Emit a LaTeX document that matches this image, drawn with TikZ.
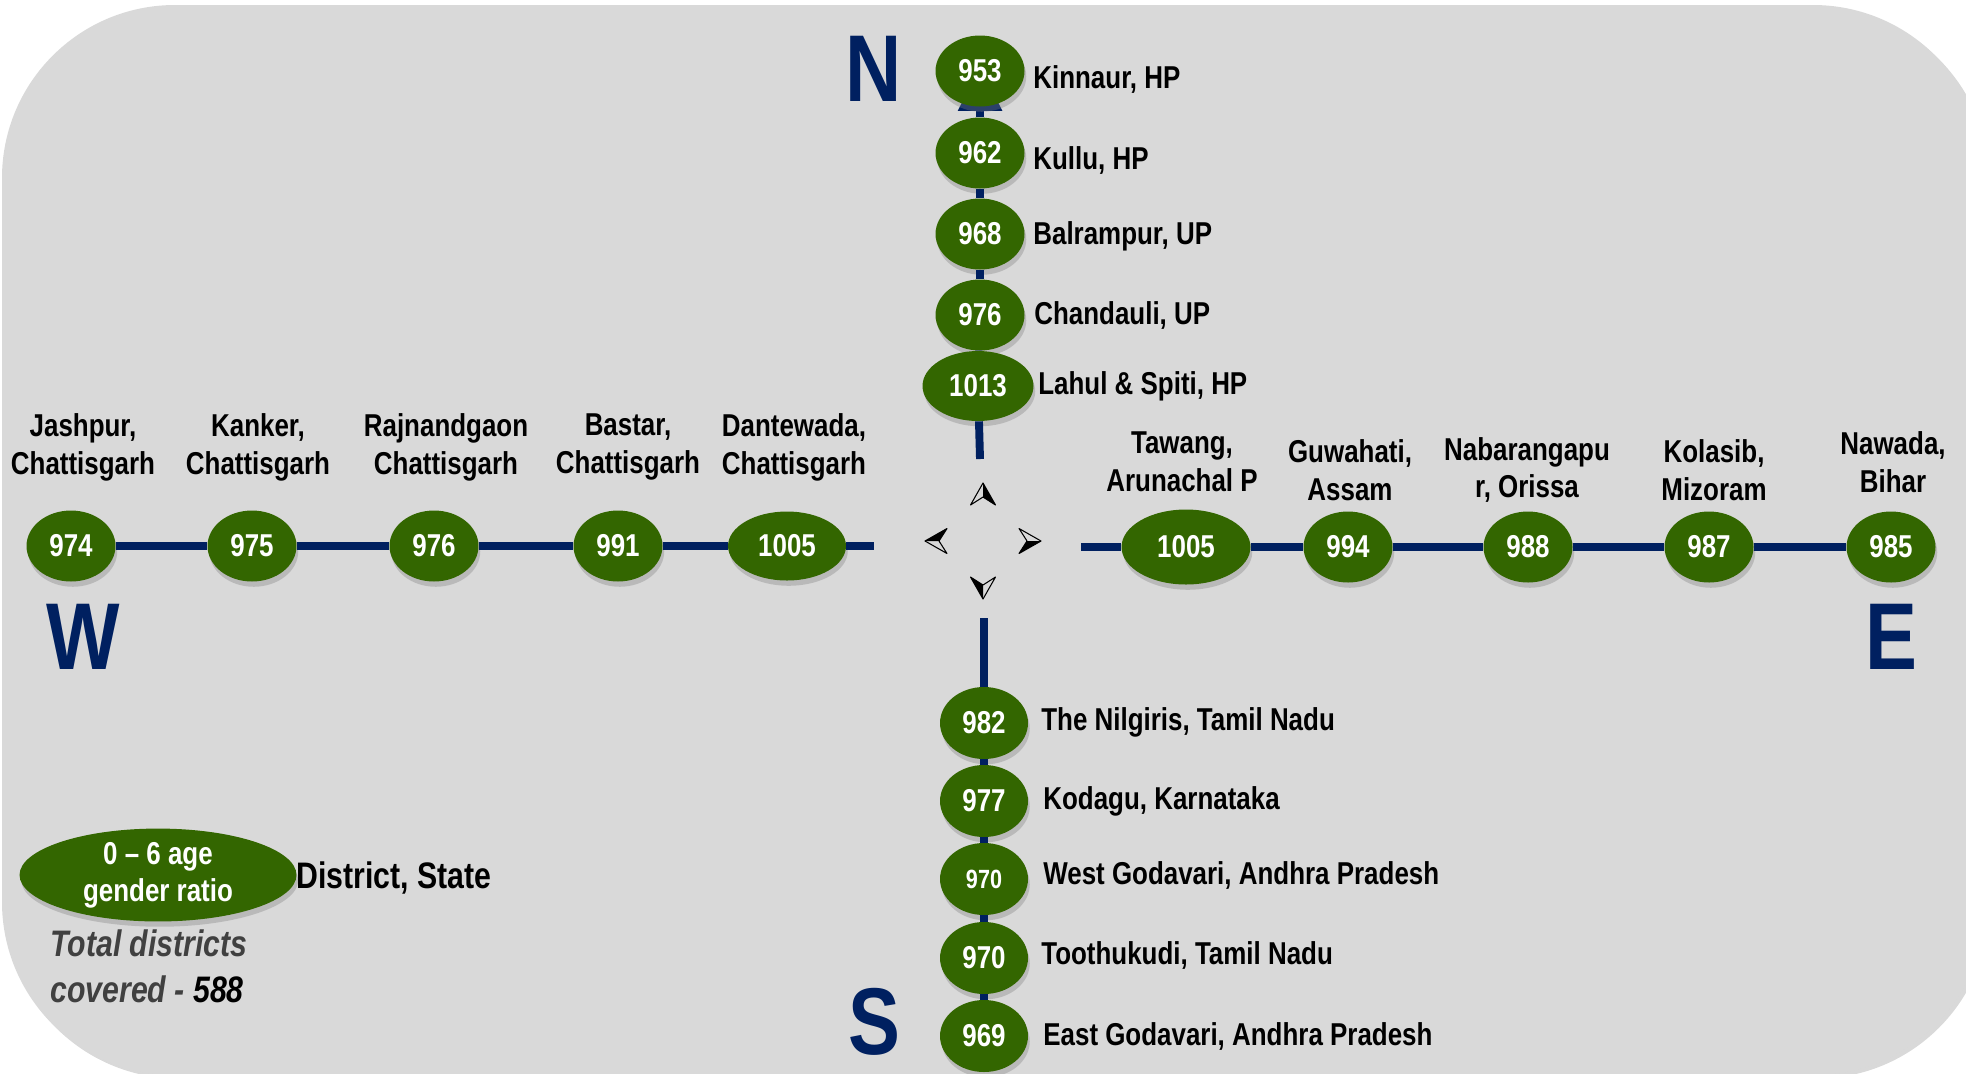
\documentclass[tikz,border=0pt]{standalone}
\usepackage{fontspec}
\setmainfont{Liberation Sans}[FakeStretch=0.82]
\usepackage{tikz}
\usepackage{xcolor}
\usetikzlibrary{arrows.meta,calc,positioning,shapes.geometric,shadows}
\definecolor{RatioGreen}{HTML}{336600}
\definecolor{AxisNavy}{HTML}{002060}
\definecolor{PanelGrey}{HTML}{D9D9D9}
\definecolor{NoteGrey}{HTML}{404040}

\begin{document}
\begin{tikzpicture}[x=0.02cm, y=-0.02cm,
    ratio/.style={ellipse, fill=RatioGreen, text=white, inner sep=0pt,
        minimum width=1.78cm, minimum height=1.42cm,
        font=\bfseries\fontsize{18}{21}\selectfont,
        drop shadow={shadow xshift=1pt, shadow yshift=-3pt, opacity=0.35}},
    district/.style={inner sep=0pt, align=center, font=\bfseries\fontsize{18}{21.5}\selectfont},
    axis/.style={AxisNavy, line width=4.5pt},
    heading/.style={inner sep=0pt, text=AxisNavy, font=\bfseries\fontsize{54}{54}\selectfont}]

    \useasboundingbox (0,0) rectangle (1966,1073);

    % Panel
    \fill[PanelGrey, rounded corners=3.46cm,
        drop shadow={shadow xshift=2pt, shadow yshift=-2pt, opacity=0.3}]
        (2,5) rectangle (1986,1075);

    % North
    \node[heading] (north) at (874,69) {N};
    \node[ratio] (n2) at (980,153) {962};
    \node[ratio] (n3) at (980,234) {968};
    \node[ratio] (n4) at (980,315) {976};
    \node[ratio, minimum width=2.22cm, minimum height=1.4cm] (n5) at (978,386) {1013};
    \coordinate (nTip) at (980,66);
    \coordinate (nEnd) at (980,459);
    \draw[axis, line join=round, -{Triangle[length=0.9cm, width=0.85cm]}] (n2) -- (nTip);
    \node[ratio] (n1) at (980,71) {953};
    \draw[axis] (n2) -- (n3);
    \draw[axis] (n3) -- (n4);
    \draw[axis] (n4) -- (n5);
    \draw[axis] (n5) -- (nEnd);
    \node[district, anchor=west] (nl1) at (1033,79) {Kinnaur, HP};
    \node[district, anchor=west] (nl2) at (1033,160) {Kullu, HP};
    \node[district, anchor=west] (nl3) at (1033,236) {Balrampur, UP};
    \node[district, anchor=west] (nl4) at (1034,315) {Chandauli, UP};
    \node[district, anchor=west] (nl5) at (1038,386) {Lahul \& Spiti, HP};

    % West
    \node[heading] (west) at (83,637) {W};
    \node[ratio] (w1) at (71,546) {974};
    \node[ratio] (w2) at (252,546) {975};
    \node[ratio] (w3) at (434,546) {976};
    \node[ratio] (w4) at (618,546) {991};
    \node[ratio, minimum width=2.36cm, minimum height=1.38cm] (w5) at (787,546) {1005};
    \coordinate (wEnd) at (874,546);
    \draw[axis] (w1) -- (w2);
    \draw[axis] (w2) -- (w3);
    \draw[axis] (w3) -- (w4);
    \draw[axis] (w4) -- (w5);
    \draw[axis] (w5) -- (wEnd);
    \node[district] (wl1) at (83,447) {Jashpur,\\Chattisgarh};
    \node[district] (wl2) at (258,447) {Kanker,\\Chattisgarh};
    \node[district] (wl3) at (446,447) {Rajnandgaon\\Chattisgarh};
    \node[district] (wl4) at (628,447) {Bastar,\\Chattisgarh};
    \node[district] (wl5) at (794,447) {Dantewada,\\Chattisgarh};

    % East
    \node[heading] (east) at (1891,637) {E};
    \node[ratio, minimum width=2.58cm, minimum height=1.5cm] (e1) at (1186,547) {1005};
    \node[ratio] (e2) at (1348,547) {994};
    \node[ratio] (e3) at (1528,547) {988};
    \node[ratio] (e4) at (1709,547) {987};
    \node[ratio] (e5) at (1891,547) {985};
    \coordinate (eStart) at (1081,547);
    \draw[axis] (eStart) -- (e1);
    \draw[axis] (e1) -- (e2);
    \draw[axis] (e2) -- (e3);
    \draw[axis] (e3) -- (e4);
    \draw[axis] (e4) -- (e5);
    \node[district] (el1) at (1182,462) {Tawang,\\Arunachal P};
    \node[district] (el2) at (1350,470) {Guwahati,\\Assam};
    \node[district] (el3) at (1527,470) {Nabarangapu\\r, Orissa};
    \node[district] (el4) at (1714,470) {Kolasib,\\Mizoram};
    \node[district] (el5) at (1893,462) {Nawada,\\Bihar};

    % South
    \node[heading] (south) at (874,1022) {S};
    \node[ratio, minimum width=1.76cm, minimum height=1.44cm] (s1) at (984,723) {982};
    \node[ratio, minimum width=1.76cm, minimum height=1.44cm] (s2) at (984,801) {977};
    \node[ratio, minimum width=1.76cm, minimum height=1.44cm,
        font=\bfseries\fontsize{15}{18}\selectfont] (s3) at (984,879) {970};
    \node[ratio, minimum width=1.76cm, minimum height=1.44cm] (s4) at (984,958) {970};
    \node[ratio, minimum width=1.76cm, minimum height=1.44cm] (s5) at (984,1036) {969};
    \coordinate (sStart) at (984,618);
    \draw[axis] (sStart) -- (s1);
    \draw[axis] (s1) -- (s2);
    \draw[axis] (s2) -- (s3);
    \draw[axis] (s3) -- (s4);
    \draw[axis] (s4) -- (s5);
    \node[district, anchor=west] (sl1) at (1041,722) {The Nilgiris, Tamil Nadu};
    \node[district, anchor=west] (sl2) at (1043,801) {Kodagu, Karnataka};
    \node[district, anchor=west] (sl3) at (1043,875) {West Godavari, Andhra Pradesh};
    \node[district, anchor=west] (sl4) at (1041,955) {Toothukudi, Tamil Nadu};
    \node[district, anchor=west] (sl5) at (1043,1036) {East Godavari, Andhra Pradesh};

    % Compass rose
    \begin{scope}[shift={(983,541)}, rotate=90]
        \fill (58,0) -- (44,0) -- (36,12.5) -- cycle;
        \draw[line width=0.6pt, line join=round] (58,0) -- (36,-12.5) -- (44,0) -- (36,12.5) -- cycle;
    \end{scope}
    \begin{scope}[shift={(983,541)}, rotate=0]
        \fill (58,0) -- (44,0) -- (36,12.5) -- cycle;
        \draw[line width=0.6pt, line join=round] (58,0) -- (36,-12.5) -- (44,0) -- (36,12.5) -- cycle;
    \end{scope}
    \begin{scope}[shift={(983,541)}, rotate=-90]
        \fill (58,0) -- (44,0) -- (36,12.5) -- cycle;
        \draw[line width=0.6pt, line join=round] (58,0) -- (36,-12.5) -- (44,0) -- (36,12.5) -- cycle;
    \end{scope}
    \begin{scope}[shift={(983,541)}, rotate=180]
        \fill (58,0) -- (44,0) -- (36,12.5) -- cycle;
        \draw[line width=0.6pt, line join=round] (58,0) -- (36,-12.5) -- (44,0) -- (36,12.5) -- cycle;
    \end{scope}

    % Legend
    \node[ratio, align=center, minimum width=5.54cm, minimum height=1.8cm] (key) at (158,875)
        {0 -- 6 age\\gender ratio};
    \node[inner sep=0pt, anchor=west, font=\bfseries\fontsize{21}{25}\selectfont] (keytext) at (296,878) {District, State};
    \node[inner sep=0pt, anchor=west, align=left, text=NoteGrey,
        font=\bfseries\itshape\fontsize{21}{26}\selectfont] (total) at (50,966)
        {Total districts\\covered - \textcolor{black}{588}};

\end{tikzpicture}
\end{document}
